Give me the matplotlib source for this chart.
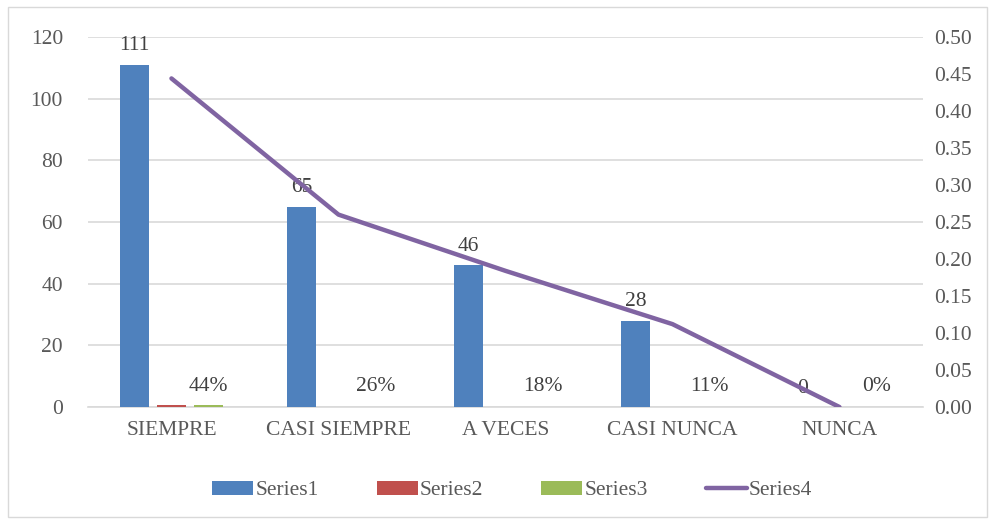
import numpy as np
import matplotlib
matplotlib.use("Agg")
from matplotlib import pyplot as plt
from matplotlib.patches import Rectangle

plt.rcParams['font.family'] = ['Liberation Serif', 'DejaVu Serif']

categorias = ['SIEMPRE', 'CASI SIEMPRE', 'A VECES', 'CASI NUNCA', 'NUNCA']
serie1 = [111, 65, 46, 28, 0]
serie2 = [0.5, 0, 0, 0, 0]
serie3 = [0.5, 0, 0, 0, 0]
serie4 = [0.444, 0.26, 0.184, 0.112, 0.0]
etiquetas_pct = ['44%', '26%', '18%', '11%', '0%']

gris = '#595959'
fs = 15.5
fig = plt.figure(figsize=(9.95, 5.21), dpi=100)
fig.patches.append(Rectangle((0.008, 0.008), 0.984, 0.978, transform=fig.transFigure,
                             fill=False, edgecolor='#d9d9d9', linewidth=1))

ax = fig.add_axes([0.0884, 0.2188, 0.8392, 0.7102])
x = np.arange(len(categorias))
w = 0.175
off = 0.222

b1 = ax.bar(x - off, serie1, w, color='#4F81BD', label='Series1', zorder=3)
b2 = ax.bar(x, serie2, w, color='#C0504D', label='Series2', zorder=3)
b3 = ax.bar(x + off, serie3, w, color='#9BBB59', label='Series3', zorder=3)

# etiquetas de datos
for xi, v in zip(x, serie1):
    ax.text(xi - off, v + 3.0, str(v), ha='center', va='bottom', fontsize=fs, color='#404040', zorder=5)
for xi, v, t in zip(x, serie3, etiquetas_pct):
    ax.text(xi + off, 3.5, t, ha='center', va='bottom', fontsize=fs, color='#404040', zorder=5)

ax.set_xlim(-0.5, len(categorias) - 0.5)
ax.set_ylim(0, 120)
ax.set_yticks(range(0, 121, 20))
ax.set_xticks(x)
ax.set_xticklabels(categorias)
ax.yaxis.grid(True, color='#d9d9d9', linewidth=1.2, zorder=0)
ax.set_axisbelow(True)
for s in ['top', 'right', 'left']:
    ax.spines[s].set_visible(False)
ax.spines['bottom'].set_color('#d9d9d9')
ax.spines['bottom'].set_linewidth(1.2)
ax.tick_params(axis='both', length=0, labelsize=fs, colors=gris)
ax.tick_params(axis='x', pad=10)
ax.tick_params(axis='y', pad=18)

ax2 = ax.twinx()
l4, = ax2.plot(x, serie4, color='#8064A2', linewidth=3.2, solid_capstyle='round', label='Series4', zorder=4)
ax2.set_ylim(0, 0.5)
ax2.set_yticks(np.arange(0, 0.501, 0.05))
ax2.set_yticklabels(['%.2f' % v for v in np.arange(0, 0.501, 0.05)])
for s in ['top', 'right', 'left', 'bottom']:
    ax2.spines[s].set_visible(False)
ax2.tick_params(axis='y', length=0, labelsize=fs, colors=gris, pad=8)

fig.legend([b1, b2, b3, l4], ['Series1', 'Series2', 'Series3', 'Series4'],
           loc='center', bbox_to_anchor=(0.515, 0.058), ncol=4, frameon=False,
           fontsize=fs, labelcolor=gris, handlelength=1.9, handleheight=0.6,
           handletextpad=0.1, columnspacing=2.7)

fig.savefig('out.png', dpi=100)
